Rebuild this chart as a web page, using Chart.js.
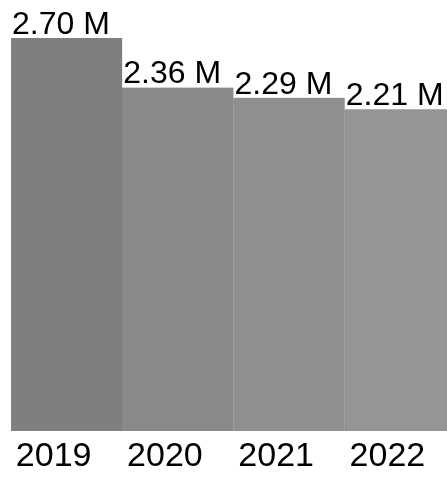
<!DOCTYPE html>
<html>
<head>
<meta charset="utf-8">
<script src="https://cdn.jsdelivr.net/npm/chart.js@4"></script>
<style>
  html, body { margin: 0; padding: 0; background: #fff; }
  /* the last bar runs past the right edge in the original, so the canvas is a bit wider and clipped */
  #wrap { width: 447px; height: 477px; overflow: hidden; }
</style>
</head>
<body>
<div id="wrap"><canvas id="yearChart" width="456" height="477"></canvas></div>
<script>
var years = ["2019", "2020", "2021", "2022"];
var valuesM = [2.70, 2.36, 2.29, 2.21];
var barColors = ["#7f7f7f", "#8a8a8a", "#8f8f8f", "#959595"];

// value labels sit on top of each bar, left aligned with the bar edge
var topLabels = {
  id: "topLabels",
  afterDatasetsDraw: function(chart) {
    var ctx = chart.ctx;
    var meta = chart.getDatasetMeta(0);
    ctx.save();
    ctx.font = "32px 'Liberation Sans', Arial, sans-serif";
    ctx.fillStyle = "#000";
    ctx.textAlign = "left";
    ctx.textBaseline = "alphabetic";
    meta.data.forEach(function(bar, i) {
      ctx.fillText(valuesM[i].toFixed(2) + " M", bar.x - bar.width / 2 + 1, bar.y - 4);
    });
    ctx.restore();
  }
};

var chart = new Chart(document.getElementById("yearChart"), {
  type: "bar",
  data: {
    labels: years,
    datasets: [{
      data: valuesM,
      backgroundColor: barColors,
      borderColor: "#868686",
      borderWidth: {left: 1, top: 0, right: 0, bottom: 0},
      borderSkipped: false,
      categoryPercentage: 1.0,
      barPercentage: 1.0
    }]
  },
  options: {
    responsive: false,
    animation: false,
    layout: { padding: { left: 11, top: 38, right: 0, bottom: 0 } },
    plugins: { legend: { display: false }, tooltip: { enabled: false } },
    scales: {
      x: {
        grid: { display: false, drawTicks: false },
        border: { display: false },
        ticks: {
          color: "#000",
          font: { family: "'Liberation Sans', Arial, sans-serif", size: 34 },
          padding: 5,
          labelOffset: -13,
          maxRotation: 0,
          autoSkip: false
        },
        afterFit: function(s) { s.height = 46; }
      },
      y: {
        display: false,
        min: 0,
        max: 2.7
      }
    }
  },
  plugins: [topLabels]
});
</script>
</body>
</html>
